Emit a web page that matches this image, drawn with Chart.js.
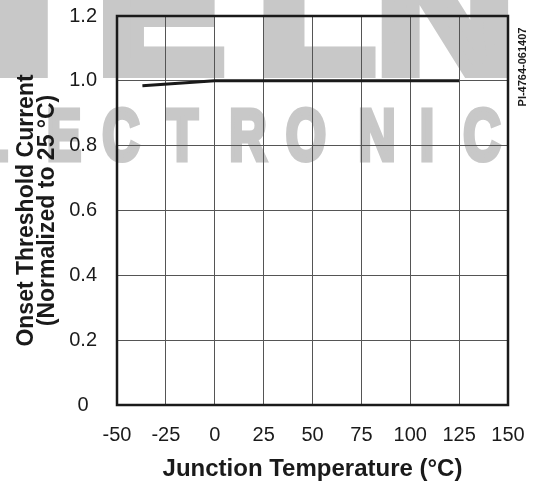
<!DOCTYPE html>
<html>
<head>
<meta charset="utf-8">
<script src="https://cdn.jsdelivr.net/npm/chart.js@4.4.1/dist/chart.umd.min.js"></script>
<style>
html,body{margin:0;padding:0;background:#fff}
canvas{display:block}
</style>
</head>
<body>
<canvas id="chart" width="545" height="485"></canvas>
<script>
// ── data ───────────────────────────────────────────────────
const temps=[-37,0,50,125];
const onset=[0.985,1.0,1.0,1.0];
const xTicks=[-50,-25,0,25,50,75,100,125,150];
const yTicks=[0,0.2,0.4,0.6,0.8,1.0,1.2];

const FONT='"Liberation Sans", Arial, Helvetica, sans-serif';
const INK='#1a1a1a';

// watermark letters behind the plot (decoration only)
const wmTop=[['I',18,1.6],['E',161,1.1],['L',316,1.1],['N',445,1.1]];
const wmBottom=[['L',-8],['E',64],['C',121],['T',182],['R',248],['O',306],['N',377],['I',427],['C',482]];

const watermark={id:'watermark',beforeDraw(chart){
  const ctx=chart.ctx;
  ctx.save();
  ctx.fillStyle=ctx.strokeStyle='#c8c8c8';
  ctx.lineJoin='miter';
  ctx.textAlign='center';ctx.textBaseline='alphabetic';
  ctx.font='bold 175px '+FONT;
  ctx.lineWidth=12;
  wmTop.forEach(([ch,x,sx])=>{ctx.save();ctx.translate(x,72);ctx.scale(sx,1);ctx.fillText(ch,0,0);ctx.strokeText(ch,0,0);ctx.restore();});
  ctx.font='bold 72px '+FONT;
  ctx.lineWidth=5;
  wmBottom.forEach(([ch,x])=>{ctx.save();ctx.translate(x,160);ctx.scale(0.72,1);ctx.fillText(ch,0,0);ctx.strokeText(ch,0,0);ctx.restore();});
  ctx.restore();
}};

// plot frame + drawing id on the right
const frame={id:'frame',afterDraw(chart){
  const {ctx,chartArea:a}=chart;
  ctx.save();
  ctx.strokeStyle=INK;ctx.lineWidth=2.5;
  ctx.strokeRect(a.left,a.top,a.right-a.left,a.bottom-a.top);
  ctx.translate(523,67);ctx.rotate(-Math.PI/2);
  ctx.fillStyle=INK;ctx.font='bold 11px '+FONT;
  ctx.textAlign='center';ctx.textBaseline='middle';
  ctx.fillText('PI-4764-061407',0,0);
  ctx.restore();
}};

new Chart(document.getElementById('chart'),{
  type:'line',
  data:{datasets:[{
    data:temps.map((t,i)=>({x:t,y:onset[i]})),
    borderColor:INK,borderWidth:3,pointRadius:0,tension:0,fill:false
  }]},
  options:{
    responsive:false,animation:false,
    layout:{padding:{top:0,right:37,left:0,bottom:0}},
    plugins:{legend:{display:false},tooltip:{enabled:false}},
    scales:{
      x:{type:'linear',min:-50,max:150,
        afterBuildTicks:s=>{s.ticks=xTicks.map(v=>({value:v}));},
        afterFit:s=>{s.height=80;},
        grid:{color:'#555',lineWidth:1,drawTicks:false},
        border:{display:false},
        ticks:{color:INK,font:{family:FONT,size:20},padding:18,maxRotation:0},
        title:{display:true,text:'Junction Temperature (°C)',color:INK,font:{family:FONT,size:24,weight:'bold'},padding:{top:4,bottom:1}}
      },
      y:{type:'linear',min:0,max:1.2,
        afterBuildTicks:s=>{s.ticks=yTicks.map(v=>({value:v}));},
        // tick padding would also push the plot top down; pin it instead
        afterFit:s=>{s.width=117;s.paddingTop=16;s.paddingBottom=0;},
        grid:{color:'#555',lineWidth:1,drawTicks:false},
        border:{display:false},
        ticks:{color:INK,font:{family:FONT,size:20},padding:20,crossAlign:'center',
          callback:v=>v===0?'0':v.toFixed(1)},
        title:{display:true,text:['Onset Threshold Current','(Normalized to 25 °C)'],color:INK,
          font:{family:FONT,size:23,weight:'bold',lineHeight:0.92},padding:{top:16,bottom:0}}
      }
    }
  },
  plugins:[watermark,frame]
});
</script>
</body>
</html>
